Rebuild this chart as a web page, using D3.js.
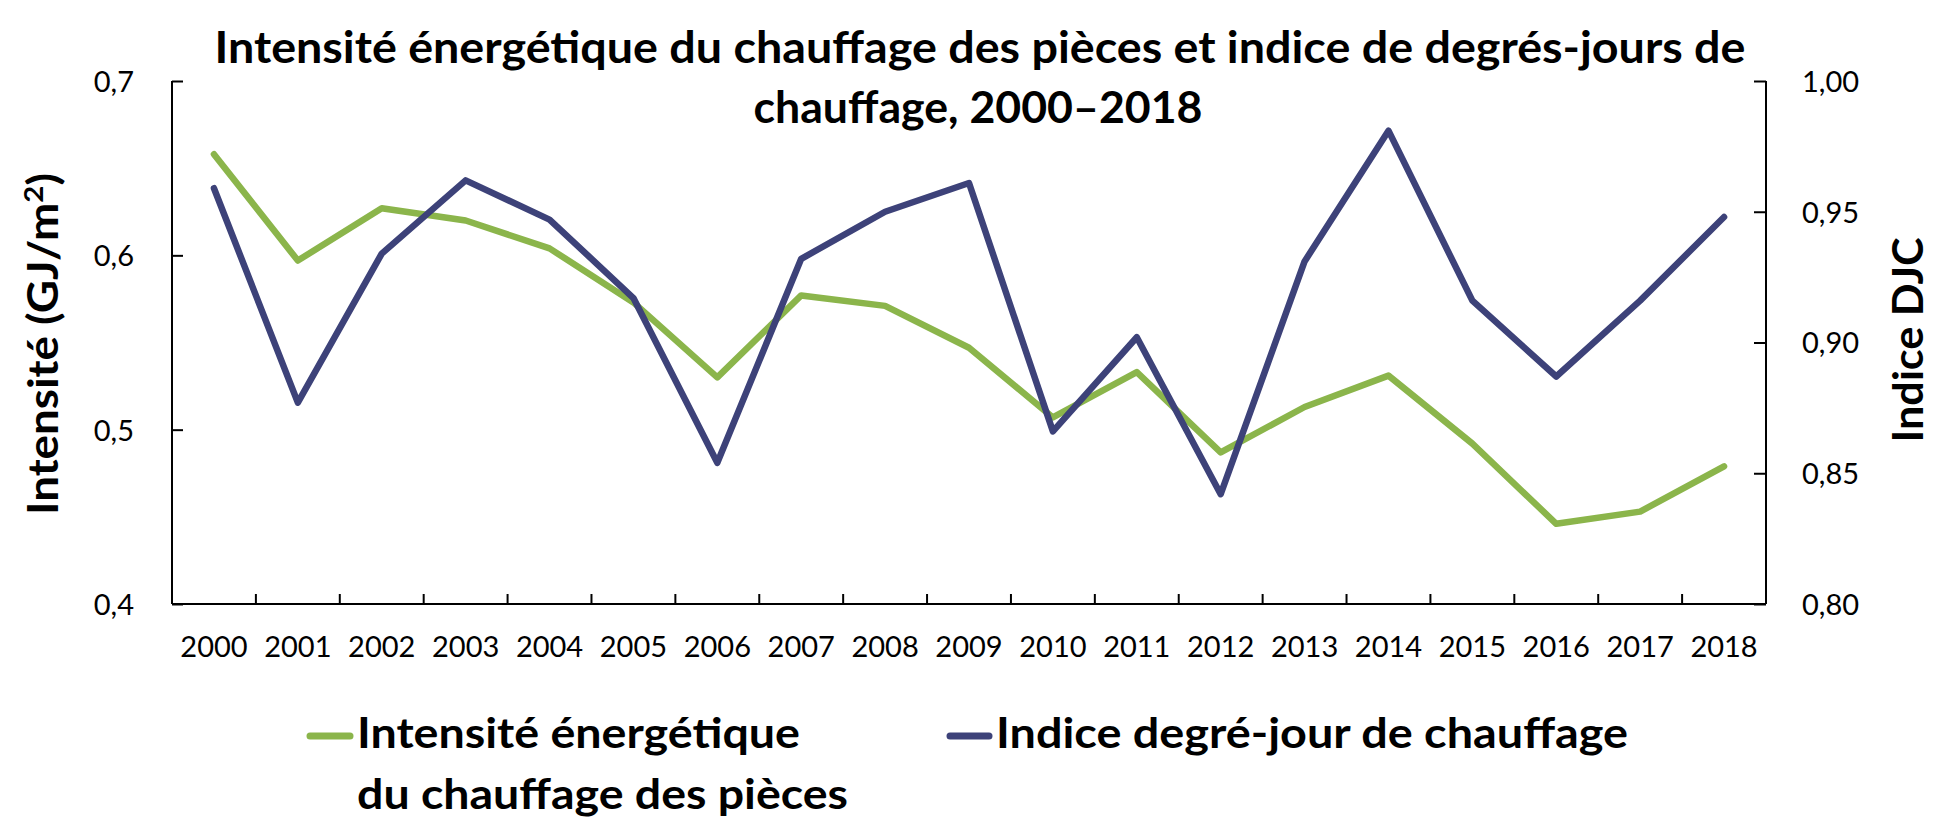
<!DOCTYPE html>
<html>
<head>
<meta charset="utf-8">
<script src="https://cdn.jsdelivr.net/npm/d3@7"></script>
<style>
  html, body { margin: 0; padding: 0; background: #ffffff; }
  svg { display: block; }
  text { font-family: Lato, "Open Sans", "Liberation Sans", sans-serif; fill: #000; }
</style>
</head>
<body>
<svg id="chart" width="1956" height="840"></svg>
<script>
// ---- data ----
const years = ["2000","2001","2002","2003","2004","2005","2006","2007","2008","2009",
               "2010","2011","2012","2013","2014","2015","2016","2017","2018"];
const intensite = [0.658, 0.597, 0.627, 0.620, 0.604, 0.573, 0.530, 0.577, 0.571, 0.547,
                   0.507, 0.533, 0.487, 0.513, 0.531, 0.492, 0.446, 0.453, 0.479];
const djc = [0.959, 0.877, 0.934, 0.962, 0.947, 0.917, 0.854, 0.932, 0.950, 0.961,
             0.866, 0.902, 0.842, 0.931, 0.981, 0.916, 0.887, 0.916, 0.948];
const leftTicks = [0.4, 0.5, 0.6, 0.7];
const rightTicks = [0.80, 0.85, 0.90, 0.95, 1.00];
const titleLines = ["Intensité énergétique du chauffage des pièces et indice de degrés-jours de",
                    "chauffage, 2000–2018"];
const seriesNames = [["Intensité énergétique", "du chauffage des pièces"],
                     ["Indice degré-jour de chauffage"]];
const leftTitle = "Intensité (GJ/m";
const rightTitle = "Indice DJC";

const colGreen = "#8bb54b";
const colNavy = "#3d4279";

// ---- layout ----
const svg = d3.select("#chart");
const L = 172, R = 1766, T = 81, B = 604;

const x = d3.scaleBand().domain(years).range([L, R]).padding(0);
const yL = d3.scaleLinear().domain([0.4, 0.7]).range([B, T]);
const yR = d3.scaleLinear().domain([0.80, 1.00]).range([B, T]);
const fmt1 = v => d3.format(".1f")(v).replace(".", ",");
const fmt2 = v => d3.format(".2f")(v).replace(".", ",");

// title
svg.append("text").attr("x", 980).attr("y", 63).attr("text-anchor", "middle")
  .attr("font-size", 43).attr("font-weight", "bold")
  .attr("textLength", 1531).attr("lengthAdjust", "spacingAndGlyphs")
  .text(titleLines[0]);
svg.append("text").attr("x", 978).attr("y", 123).attr("text-anchor", "middle")
  .attr("font-size", 43).attr("font-weight", "bold")
  .attr("textLength", 449).attr("lengthAdjust", "spacingAndGlyphs")
  .text(titleLines[1]);

// left axis
const axL = svg.append("g").attr("transform", `translate(${L},0)`)
  .call(d3.axisRight(yL).tickValues(leftTicks).tickSize(11).tickFormat(fmt1));
axL.select(".domain").attr("stroke", "#000").attr("stroke-width", 2).attr("d", `M0,${T}V${B}`);
axL.selectAll(".tick line").attr("stroke", "#000").attr("stroke-width", 2);
axL.selectAll(".tick text").attr("x", -38).attr("dy", "0.36em").attr("text-anchor", "end")
  .attr("font-size", 29).attr("fill", "#000");

// right axis
const axR = svg.append("g").attr("transform", `translate(${R},0)`)
  .call(d3.axisLeft(yR).tickValues(rightTicks).tickSize(12).tickFormat(fmt2));
axR.select(".domain").attr("stroke", "#000").attr("stroke-width", 2).attr("d", `M0,${T}V${B}`);
axR.selectAll(".tick line").attr("stroke", "#000").attr("stroke-width", 2);
axR.selectAll(".tick text").attr("x", 36).attr("dy", "0.36em").attr("text-anchor", "start")
  .attr("font-size", 29).attr("fill", "#000");

// bottom axis
const axB = svg.append("g").attr("transform", `translate(0,${B})`)
  .call(d3.axisBottom(x).tickSize(0));
axB.select(".domain").attr("stroke", "#000").attr("stroke-width", 2).attr("d", `M${L},0H${R}`);
axB.selectAll(".tick text").attr("y", 53).attr("dy", 0).attr("font-size", 29).attr("fill", "#000");
// inner tick marks at category boundaries
axB.selectAll(".bnd").data(years.slice(1)).enter().append("line")
  .attr("class", "bnd")
  .attr("x1", d => x(d)).attr("x2", d => x(d))
  .attr("y1", 0).attr("y2", -10)
  .attr("stroke", "#000").attr("stroke-width", 2);

// axis titles
const lt = svg.append("text").attr("transform", "translate(58,344) rotate(-90)")
  .attr("text-anchor", "middle").attr("font-size", 42).attr("font-weight", "bold")
  .attr("textLength", 342).attr("lengthAdjust", "spacingAndGlyphs");
lt.append("tspan").text(leftTitle);
lt.append("tspan").attr("font-size", 27).attr("dy", -15).text("2");
lt.append("tspan").attr("dy", 15).text(")");

svg.append("text").attr("transform", "translate(1923,340) rotate(-90)")
  .attr("text-anchor", "middle").attr("font-size", 42).attr("font-weight", "bold")
  .attr("textLength", 205).attr("lengthAdjust", "spacingAndGlyphs")
  .text(rightTitle);

// lines
const cx = d => x(d) + x.bandwidth() / 2;
const lineL = d3.line().x((d, i) => cx(years[i])).y(d => yL(d));
const lineR = d3.line().x((d, i) => cx(years[i])).y(d => yR(d));

svg.append("path").datum(intensite).attr("d", lineL)
  .attr("fill", "none").attr("stroke", colGreen).attr("stroke-width", 6.5)
  .attr("stroke-linejoin", "round").attr("stroke-linecap", "round");
svg.append("path").datum(djc).attr("d", lineR)
  .attr("fill", "none").attr("stroke", colNavy).attr("stroke-width", 6.5)
  .attr("stroke-linejoin", "round").attr("stroke-linecap", "round");

// legend
const lg = svg.append("g");
lg.append("line").attr("x1", 310).attr("x2", 350).attr("y1", 736).attr("y2", 736)
  .attr("stroke", colGreen).attr("stroke-width", 7).attr("stroke-linecap", "round");
lg.append("text").attr("x", 357).attr("y", 748).attr("font-size", 42).attr("font-weight", "bold")
  .attr("textLength", 443).attr("lengthAdjust", "spacingAndGlyphs").text(seriesNames[0][0]);
lg.append("text").attr("x", 357).attr("y", 809).attr("font-size", 42).attr("font-weight", "bold")
  .attr("textLength", 491).attr("lengthAdjust", "spacingAndGlyphs").text(seriesNames[0][1]);

lg.append("line").attr("x1", 950).attr("x2", 989).attr("y1", 736).attr("y2", 736)
  .attr("stroke", colNavy).attr("stroke-width", 7).attr("stroke-linecap", "round");
lg.append("text").attr("x", 996).attr("y", 748).attr("font-size", 42).attr("font-weight", "bold")
  .attr("textLength", 632).attr("lengthAdjust", "spacingAndGlyphs").text(seriesNames[1][0]);
</script>
</body>
</html>
